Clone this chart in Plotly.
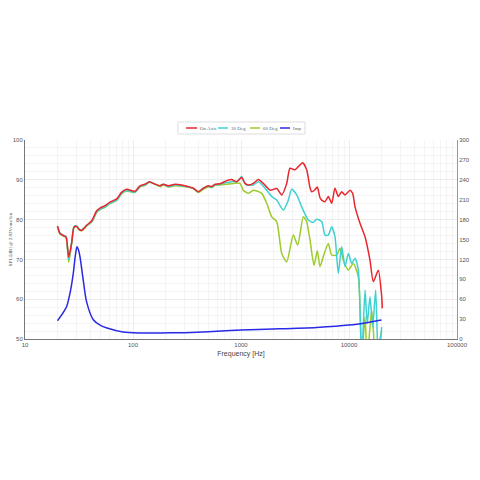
import plotly.graph_objects as go

# ---- data ----
freq_on = [20, 21.1, 22.6, 24, 25.4, 27.1, 28.4, 30.1, 31.8, 33.5, 37.3, 41.5, 46.1, 49.5, 55, 61.2,
           70.6, 78.6, 87.4, 104, 116, 129, 142, 160, 178, 191, 212, 245, 283, 314, 361, 403, 448,
           498, 535, 574, 639, 738, 820, 912, 1014, 1089, 1169, 1301, 1446, 1609, 1857, 2141, 2384,
           2651, 2844, 3162, 3396, 3724, 4057, 4355, 4511, 4842, 5085, 5387, 5585, 5995, 6430, 6916,
           7413, 7962, 8551, 9183, 10210, 10810, 11370, 12640, 14070, 15640, 16790, 18670, 20090, 20330]
spl_on = [78.4, 76.5, 76.0, 75.6, 70.6, 74.3, 78.1, 78.3, 77.5, 77.3, 78.6, 79.7, 82.2, 82.9, 83.5, 84.4,
          85.2, 86.9, 87.6, 87.1, 88.5, 88.9, 89.5, 88.9, 88.5, 88.9, 88.5, 88.9, 88.7, 88.4, 87.9, 87.0, 87.9,
          88.5, 88.3, 88.9, 89.0, 89.8, 90.1, 89.5, 90.6, 89.1, 88.7, 89.1, 90.1, 89.1, 87.4, 87.8, 86.2,
          89.1, 92.9, 92.5, 93.3, 94.3, 92.5, 88.0, 87.0, 87.5, 88.2, 85.5, 84.9, 84.5, 85.8, 84.1,
          87.9, 85.8, 87.0, 86.2, 87.4, 86.6, 83.2, 79.1, 75.7, 69.8, 64.4, 67.3, 60.6, 57.7]

freq_30 = [20, 21.1, 22.6, 24, 25.4, 27.1, 28.4, 30.1, 31.8, 33.5, 37.3, 41.5, 46.1, 49.5, 55, 61.2,
           70.6, 78.6, 87.4, 104, 116, 129, 142, 160, 178, 191, 212, 245, 283, 314, 361, 403, 448,
           498, 535, 574, 639, 738, 849, 912, 979, 1014, 1050, 1129, 1301, 1446, 1668, 1924, 2141,
           2466, 2743, 2946, 3280, 3648, 4198, 4667, 5020, 5585, 5995, 6430, 6916, 7413, 7962, 8551,
           9183, 9857, 10590, 11370, 12200, 13110, 14070, 14760, 15640, 16570, 17660, 18670, 20090]
spl_30 = [78.2, 76.6, 76.1, 75.7, 70.0, 74.4, 78.2, 78.4, 77.6, 77.4, 78.5, 79.5, 81.9, 82.6, 83.2, 84.1,
          84.9, 86.6, 87.3, 86.9, 88.3, 88.7, 89.5, 88.9, 88.5, 88.9, 88.3, 88.7, 88.5, 88.3, 87.9, 87.0, 87.9,
          88.4, 88.1, 88.7, 88.9, 89.3, 89.6, 89.5, 90.3, 90.9, 89.9, 88.7, 88.7, 89.5, 87.9, 85.8, 84.9,
          82.4, 84.9, 87.6, 86.2, 83.2, 79.9, 79.3, 80.1, 79.5, 76.1, 76.1, 78.2, 75.7, 66.5, 73.2,
          68.2, 71.5, 69.0, 70.3, 67.3, 45.0, 62.3, 53.9, 60.6, 53.0, 62.3, 45.0, 53.0]

freq_60 = [20, 21.1, 22.6, 24, 25.4, 27.1, 28.4, 30.1, 31.8, 33.5, 37.3, 41.5, 46.1, 49.5, 55, 61.2,
           70.6, 78.6, 87.4, 104, 116, 129, 142, 160, 178, 191, 212, 245, 283, 314, 361, 403, 448,
           498, 535, 574, 639, 738, 849, 979, 1050, 1169, 1301, 1556, 1730, 1924, 2141, 2384, 2651,
           3049, 3350, 3776, 4057, 4198, 4355, 4742, 5085, 5387, 5781, 6430, 6916, 7691, 8255, 8851,
           9857, 10960, 12200, 13110, 14070, 14760, 16220, 17660, 19000, 20090]
spl_60 = [78.0, 76.4, 75.9, 75.5, 69.3, 74.2, 78.0, 78.2, 77.4, 77.2, 78.4, 79.4, 81.8, 82.5, 83.1, 84.0,
          84.8, 86.5, 87.2, 86.8, 88.2, 88.6, 89.4, 88.9, 88.3, 88.7, 88.2, 88.5, 88.4, 88.2, 87.8, 86.8, 87.6,
          88.2, 88.0, 88.6, 88.7, 88.9, 89.1, 89.1, 87.4, 86.6, 87.4, 86.6, 84.1, 80.7, 79.5, 71.5, 69.4,
          76.1, 73.6, 80.7, 79.5, 77.4, 74.9, 68.5, 72.2, 68.2, 70.7, 74.0, 71.1, 71.1, 72.8, 69.8,
          67.3, 69.0, 65.6, 45.0, 55.6, 45.0, 57.3, 45.0, 49.0, 52.0]

freq_imp = [20, 22, 24.3, 26.1, 28, 29.2, 30.3, 31.3, 32.3, 34.6, 37.2, 42.9, 50, 57.5, 80.8, 116,
            178, 300, 500, 1000, 2000, 5000, 10000, 15000, 20000]
imp = [27.6, 37, 49, 69, 99, 125, 139, 134, 124, 89, 56, 29, 20.5, 16.6, 10.5, 9.0,
       9.0, 9.6, 11.0, 13.5, 15.0, 17.5, 21.0, 25.0, 28.6]

series_names = ["On Axis", "30 Deg", "60 Deg", "Imp"]
colors = ["#e8262c", "#3fd0d2", "#9ccb2a", "#2a2ae6"]

x_ticks = [10, 100, 1000, 10000, 100000]
x_ticklabels = ["10", "100", "1000", "10000", "100000"]

fig = go.Figure()
fig.add_trace(go.Scatter(x=freq_imp, y=imp, name=series_names[3], mode="lines", yaxis="y2",
                         line=dict(color=colors[3], width=1.5, shape="spline", smoothing=0.8)))
for fx, fy, name, col in [(freq_60, spl_60, series_names[2], colors[2]),
                          (freq_30, spl_30, series_names[1], colors[1]),
                          (freq_on, spl_on, series_names[0], colors[0])]:
    fig.add_trace(go.Scatter(x=fx, y=fy, name=name, mode="lines",
                             line=dict(color=col, width=1.5, shape="spline", smoothing=0.6)))

# ---- layout geometry (page body has an 8px margin) ----
OFF = 8
W = H = 480 - OFF
PL, PR, PT, PB = 25 - OFF, 457 - OFF, 140 - OFF, 339 - OFF
def px_x(p): return (p - OFF - PL) / (PR - PL)
def px_y(p): return (PB - (p - OFF)) / (PB - PT)

# ---- custom compact legend (layout only) ----
shapes = [dict(type="rect", xref="paper", yref="paper", x0=px_x(178), x1=px_x(305),
               y0=px_y(134), y1=px_y(122), line=dict(color="#dddddd", width=1), fillcolor="white")]
annotations = []
legend_pos = [(186, 197, 198), (218, 228, 229), (250, 260, 261), (280, 290, 291)]
for (lx0, lx1, tx), name, col in zip(legend_pos, series_names, colors):
    shapes.append(dict(type="line", xref="paper", yref="paper", x0=px_x(lx0), x1=px_x(lx1),
                       y0=px_y(128), y1=px_y(128), line=dict(color=col, width=1.5)))
    annotations.append(dict(x=px_x(tx), y=px_y(128), xref="paper", yref="paper", text=name,
                            showarrow=False, xanchor="left", yanchor="middle",
                            font=dict(family="Liberation Serif", size=5, color="#666666")))

grid = "#ececec"
tickfont = dict(family="Liberation Sans", size=6, color="#555555")

fig.update_layout(
    width=W, height=H,
    margin=dict(l=PL, r=W - PR, t=PT, b=H - PB, autoexpand=False),
    paper_bgcolor="white", plot_bgcolor="white",
    showlegend=False,
    shapes=shapes, annotations=annotations,
    xaxis=dict(type="log", range=[1, 5], tickvals=x_ticks, ticktext=x_ticklabels,
               tickfont=tickfont, showgrid=True, gridcolor=grid, gridwidth=1,
               minor=dict(dtick="D1", showgrid=True, gridcolor="#f4f4f4", ticks=""),
               showline=True, linecolor="#777777", linewidth=1, zeroline=False, ticks="",
               automargin=False,
               title=dict(text="Frequency [Hz]", font=dict(family="Liberation Sans", size=7, color="#444444"),
                          standoff=3)),
    yaxis=dict(range=[50, 100], dtick=10, tickfont=tickfont, showgrid=True, gridcolor=grid,
               minor=dict(dtick=2, showgrid=True, gridcolor="#f4f4f4"),
               showline=True, linecolor="#777777", linewidth=1, zeroline=False, ticks="",
               automargin=False,
               title=dict(text="SPL [dB] @ 2.83Vrms/1m", font=dict(family="Liberation Serif", size=5, color="#444444"),
                          standoff=4)),
    yaxis2=dict(range=[0, 300], dtick=30, overlaying="y", side="right", tickfont=tickfont,
                showgrid=False, showline=True, linecolor="#999999", linewidth=1, zeroline=False, ticks="",
                automargin=False,
                title=dict(text="Impedance [Ohms] @ 1.41Vrms", font=dict(family="Liberation Serif", size=5, color="#444444"),
                           standoff=4)),
)

fig.write_html("out.html")
